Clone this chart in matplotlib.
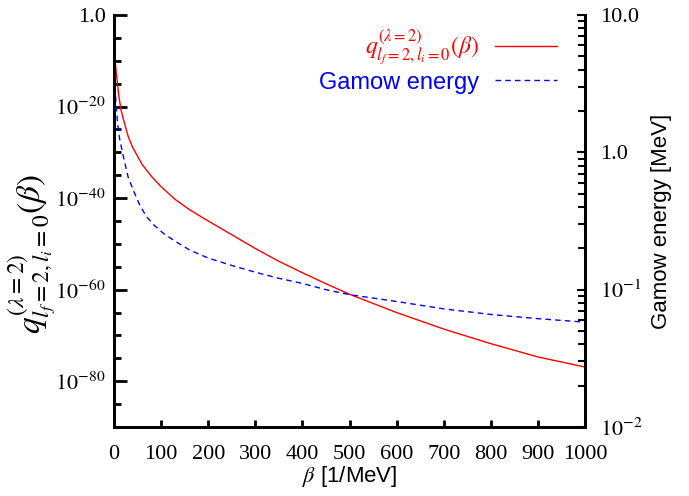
import numpy as np
import matplotlib
matplotlib.use('Agg')
import matplotlib.pyplot as plt
from matplotlib.ticker import FixedLocator, FuncFormatter, LogLocator, NullFormatter

# red curve: q(beta), read as log10 values
beta_q = [0, 2, 5, 10, 15, 20, 30, 40, 60, 80, 100, 130, 160, 200, 250, 300, 350,
          400, 450, 500, 550, 600, 700, 800, 900, 1000]
logq = [-5.4, -9.5, -12.8, -17.5, -20.8, -22.8, -26.5, -29.0, -32.7, -35.3, -37.5,
        -40.3, -42.5, -45.0, -48.0, -51.0, -53.8, -56.3, -58.7, -61.0, -63.0, -65.0,
        -68.6, -71.8, -74.7, -76.9]

# blue curve: Gamow energy [MeV]
beta_g = [0, 0.3, 1, 2, 4, 7, 12, 20, 30, 41, 55, 69, 85, 105, 130, 161, 200, 250,
          300, 350, 400, 450, 500, 600, 700, 800, 900, 1000]
gamow = [20, 12, 5.5, 3.3, 2.3, 1.7, 1.25, 0.93, 0.66, 0.53, 0.41, 0.34, 0.295, 0.257,
         0.225, 0.194, 0.170, 0.150, 0.134, 0.121, 0.111, 0.100, 0.092, 0.082, 0.0725,
         0.066, 0.0615, 0.058]

q_label = r'$q^{(\lambda{=}2)}_{l_f{=}2,l_i{=}0}(\beta)$'

plt.rcParams['mathtext.fontset'] = 'stix'
plt.rcParams['font.family'] = 'Liberation Serif'

fig = plt.figure(figsize=(6.89, 4.96), dpi=100)
ax = fig.add_axes([114 / 689, 1 - 427 / 496, 471 / 689, 412 / 496])
ax2 = ax.twinx()

line_q, = ax.plot(beta_q, [10.0 ** v for v in logq], color='red', lw=1.0, label=q_label)
line_g, = ax2.plot(beta_g, gamow, color='blue', lw=1.0, ls=(0, (4, 3)), label='Gamow energy')

ax.set_xlim(0, 1000)
ax.set_yscale('log')
ax.set_ylim(1e-90, 1)
ax.yaxis.set_major_locator(FixedLocator([1e-80, 1e-60, 1e-40, 1e-20, 1]))
ax.yaxis.set_minor_locator(FixedLocator([10.0 ** (-5 * k) for k in range(19)]))
ax.yaxis.set_minor_formatter(NullFormatter())
ax.yaxis.set_major_formatter(FuncFormatter(
    lambda v, p: '1.0' if v == 1 else r'$10^{%d}$' % round(np.log10(v))))
ax.set_xticks(range(0, 1001, 100))

ax2.set_yscale('log')
ax2.set_ylim(1e-2, 10)
ax2.yaxis.set_major_locator(FixedLocator([1e-2, 1e-1, 1, 10]))
ax2.yaxis.set_minor_locator(LogLocator(base=10, subs=np.arange(2, 10)))
ax2.yaxis.set_minor_formatter(NullFormatter())
labels2 = {0.01: r'$10^{-2}$', 0.1: r'$10^{-1}$', 1: '1.0', 10: '10.0'}
ax2.yaxis.set_major_formatter(FuncFormatter(
    lambda v, p: labels2.get(round(v, 3), '')))

for a in (ax, ax2):
    a.spines['top'].set_visible(False)
    for s in a.spines.values():
        s.set_linewidth(2)

ax.tick_params(axis='x', direction='in', length=5, width=2, labelsize=16, pad=13)
ax.tick_params(axis='y', which='major', direction='in', length=9, width=2, labelsize=16, pad=6)
ax.tick_params(axis='y', which='minor', direction='in', length=5, width=2)
ax2.tick_params(axis='y', which='major', direction='in', length=6, width=1.5, labelsize=16, pad=11)
ax2.tick_params(axis='y', which='minor', direction='in', length=5, width=1.5)

ax.set_xlabel(r'$\beta$ [1/MeV]', fontsize=16, family='Liberation Sans', labelpad=0)
ax.set_ylabel(q_label, fontsize=24)
ax.yaxis.set_label_coords(-0.118, 0.42)
ax2.set_ylabel('Gamow energy [MeV]', fontsize=16, family='Liberation Sans', labelpad=6)

leg = ax2.legend(handles=[line_q, line_g], loc='upper right', frameon=False,
                 markerfirst=False, handlelength=2.6, labelcolor='linecolor',
                 bbox_to_anchor=(0.985, 1.02), labelspacing=0.2, handletextpad=0.7,
                 prop={'family': 'Liberation Sans', 'size': 17})

fig.savefig('out.png', dpi=100)
